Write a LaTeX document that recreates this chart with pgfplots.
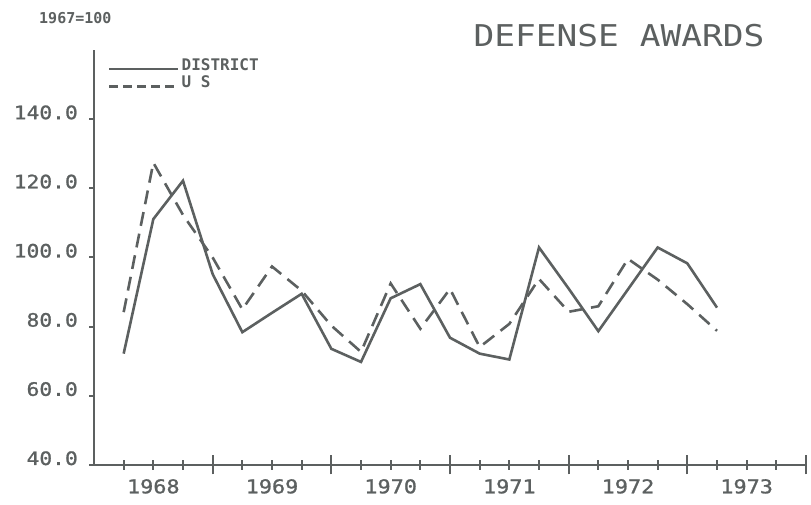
\documentclass[border=0pt]{standalone}
\usepackage{fontspec}
\usepackage{pgfplots}
\pgfplotsset{compat=1.18}
\newfontfamily\plotfont[FakeStretch=1.15]{DejaVu Sans Mono}
\newfontfamily\tickfont[FakeStretch=1.15, FakeBold=1.2]{DejaVu Sans Mono}
\newfontfamily\legfont{DejaVu Sans Mono}
\definecolor{pg}{RGB}{92,96,96}
\begin{document}
\begin{tikzpicture}
\path[use as bounding box] (-94pt,-40pt) rectangle (717pt,465pt);
\begin{axis}[
  at={(0pt,0pt)}, anchor=south west,
  scale only axis, width=712pt, height=415pt,
  xmin=1968, xmax=1974, ymin=40, ymax=160,
  axis x line=bottom, axis y line=left,
  axis line style={-, pg, line width=2.2pt},
  every tick/.style={pg, line width=2pt},
  xtick align=center,
  major tick length=10pt,
  xtick={1968.25,1968.5,1968.75,1969.25,1969.5,1969.75,1970.25,1970.5,1970.75,1971.25,1971.5,1971.75,1972.25,1972.5,1972.75,1973.25,1973.5,1973.75},
  xticklabels={,1968,,,1969,,,1970,,,1971,,,1972,,,1973,},
  extra x ticks={1969,1970,1971,1972,1973,1974},
  extra x tick labels={},
  extra x tick style={major tick length=19pt, xtick align=center},
  ytick=\empty,
  extra y ticks={40,60,80,100,120,140},
  extra y tick style={major tick length=5pt, ytick align=outside},
  /pgf/number format/assume math mode=true,
  yticklabel style={/pgf/number format/.cd, fixed, fixed zerofill, precision=1, /tikz/.cd,
    font=\tickfont\fontsize{18.5}{20}\selectfont, text=pg, anchor=base east, inner sep=0pt, xshift=-11pt},
  xticklabel style={font=\tickfont\fontsize{19}{21}\selectfont, text=pg, anchor=north, inner sep=0pt, yshift=-9pt},
  legend style={at={(0.0197,0.985)}, anchor=north west, draw=none, fill=none, inner sep=0pt,
    font=\legfont\bfseries\fontsize{16}{18}\selectfont, text=pg, row sep=0pt},
  legend cell align=left,
  legend image code/.code={\draw[#1] (0pt,-4pt) -- (69pt,-4pt);},
  clip=false,
]
\addlegendimage{pg, line width=2.4pt, solid}
\addlegendentry{DISTRICT}
\addlegendimage{pg, line width=2.4pt, dash pattern=on 9pt off 5pt}
\addlegendentry{U S}
\addplot[pg, line width=2.6pt, solid, forget plot] coordinates {
(1968.25,72.2) (1968.5,111.1) (1968.75,122.2) (1969.0,95.2) (1969.25,78.4) (1969.5,84.0)
(1969.75,89.5) (1970.0,73.6) (1970.25,69.8) (1970.5,88.2) (1970.75,92.3) (1971.0,76.8)
(1971.25,72.2) (1971.5,70.5) (1971.75,102.9) (1972.0,91.0) (1972.25,78.7) (1972.5,90.8)
(1972.75,102.9) (1973.0,98.3) (1973.25,85.5)
};
\addplot[pg, line width=2.6pt, dash pattern=on 14pt off 8pt, forget plot] coordinates {
(1968.25,84.2) (1968.5,127.4) (1968.75,112.3) (1969.0,100.0) (1969.25,85.0) (1969.5,97.4)
(1969.75,90.4) (1970.0,80.3) (1970.25,72.7) (1970.5,92.5) (1970.75,79.4) (1971.0,90.9)
(1971.25,74.1) (1971.5,80.8) (1971.75,93.8) (1972.0,84.3) (1972.25,85.9) (1972.5,99.6)
(1972.75,93.6) (1973.0,86.5) (1973.25,78.8)
};
\end{axis}
\node[anchor=base, text=pg, font=\plotfont\fontsize{30}{32}\selectfont, inner sep=0pt] at (525pt,418pt) {DEFENSE AWARDS};
\node[anchor=base west, text=pg, font=\legfont\bfseries\fontsize{15}{17}\selectfont, inner sep=0pt] at (-55pt,441pt) {1967=100};
\end{tikzpicture}
\end{document}
